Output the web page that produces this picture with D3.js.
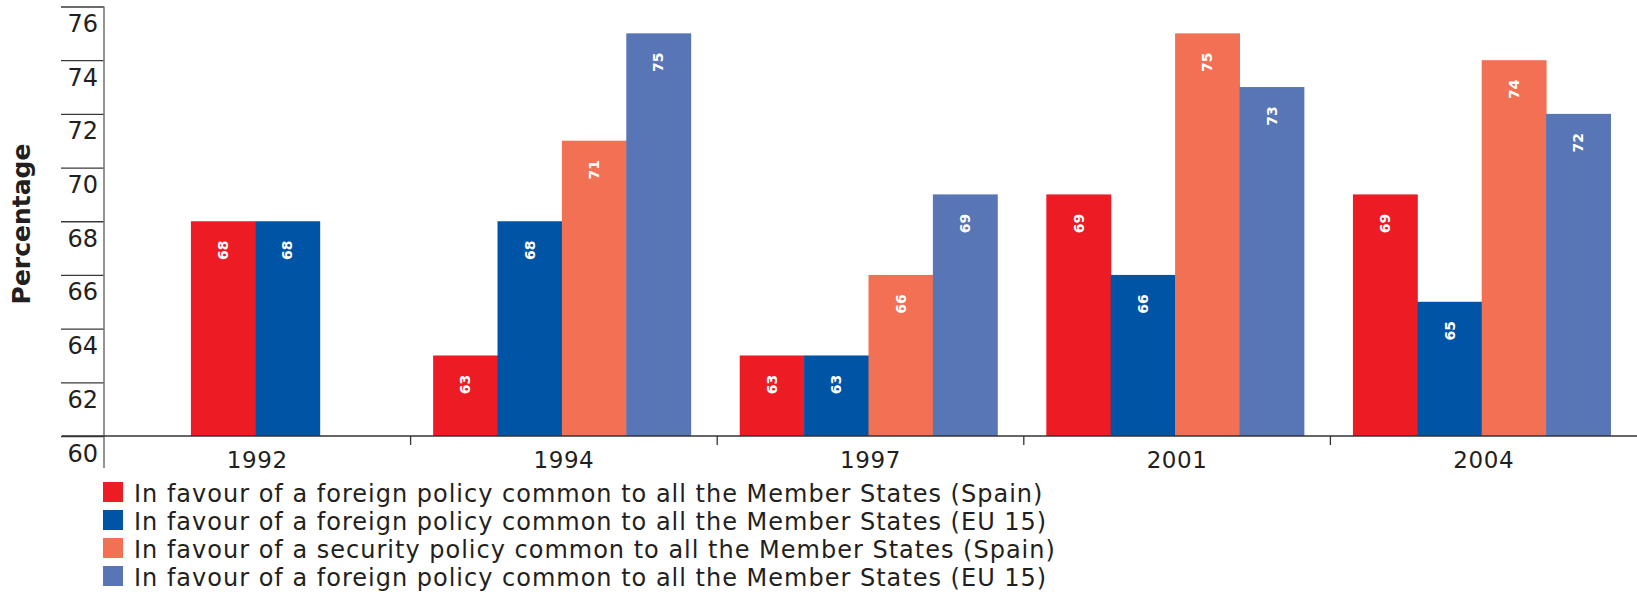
<!DOCTYPE html>
<html>
<head>
<meta charset="utf-8">
<script src="https://cdn.jsdelivr.net/npm/d3@7"></script>
<style>
  body { margin: 0; background: #fff; }
  svg { display: block; font-family: "DejaVu Sans", Verdana, sans-serif; }
</style>
</head>
<body>
<svg id="chart" width="1637" height="594"></svg>
<script>
// data
var categories = ['1992', '1994', '1997', '2001', '2004'];

var spainForeign  = [68, 63, 63, 69, 69];
var euForeign     = [68, 68, 63, 66, 65];
var spainSecurity = [null, 71, 66, 75, 74];
var euForeign2    = [null, 75, 69, 73, 72];

var seriesLabels = [
	'In favour of a foreign policy common to all the Member States (Spain)',
	'In favour of a foreign policy common to all the Member States (EU 15)',
	'In favour of a security policy common to all the Member States (Spain)',
	'In favour of a foreign policy common to all the Member States (EU 15)'
];
var seriesColors = ['#ED1C24', '#0054A6', '#F27053', '#5875B5'];

var yTicks = [60, 62, 64, 66, 68, 70, 72, 74, 76];

var series = [spainForeign, euForeign, spainSecurity, euForeign2].map(function(v, i) {
	return { key: 's' + i, values: v, label: seriesLabels[i], color: seriesColors[i] };
});

var svg = d3.select('#chart');

var x0 = d3.scaleBand()
	.domain(categories)
	.range([104, 1637])
	.padding(0);

var y = d3.scaleLinear()
	.domain([60, 76])
	.range([436, 6.5]);

var barW = x0.bandwidth() * 0.21;

// y axis: ticks stick out to the left, labels sit under each tick line
var yAxis = svg.append('g')
	.attr('transform', 'translate(104,0)')
	.call(d3.axisLeft(y).tickValues(yTicks).tickSize(43).tickSizeOuter(0));
yAxis.select('.domain').remove();
yAxis.selectAll('.tick line').attr('stroke', '#3a3a3a').attr('stroke-width', 1.3);
yAxis.selectAll('.tick text')
	.attr('x', -6)
	.attr('y', 25)
	.attr('dy', null)
	.attr('fill', '#231f20')
	.style('font-size', '24px')
	.style('font-family', '"DejaVu Sans", sans-serif');

svg.append('line')
	.attr('x1', 104).attr('x2', 104)
	.attr('y1', y(76)).attr('y2', 468)
	.attr('stroke', '#7a7a7a').attr('stroke-width', 1.6);

// bars
var groups = svg.append('g').selectAll('g')
	.data(categories)
	.join('g');

groups.each(function(cat, i) {
	var present = series.filter(function(s) { return s.values[i] != null; });
	var c = x0(cat) + x0.bandwidth() / 2 - 2;
	var inner = d3.scaleBand()
		.domain(present.map(function(s) { return s.key; }))
		.range([c - present.length * barW / 2, c + present.length * barW / 2]);

	var g = d3.select(this);
	g.selectAll('rect')
		.data(present)
		.join('rect')
		.attr('x', function(s) { return inner(s.key); })
		.attr('y', function(s) { return y(s.values[i]); })
		.attr('width', inner.bandwidth() + 0.5)
		.attr('height', function(s) { return y(60) - y(s.values[i]); })
		.attr('fill', function(s) { return s.color; });

	g.selectAll('text')
		.data(present)
		.join('text')
		.attr('transform', function(s) {
			var tx = inner(s.key) + inner.bandwidth() / 2;
			var ty = y(s.values[i]) + 29;
			return 'translate(' + tx + ',' + ty + ') rotate(-90)';
		})
		.attr('text-anchor', 'middle')
		.attr('dominant-baseline', 'central')
		.attr('fill', '#fff')
		.style('font-size', '14px')
		.style('font-weight', 'bold')
		.text(function(s) { return s.values[i]; });
});

// x axis
svg.append('line')
	.attr('x1', 62).attr('x2', 1637)
	.attr('y1', y(60)).attr('y2', y(60))
	.attr('stroke', '#333').attr('stroke-width', 1.6);

svg.append('g').selectAll('line')
	.data(categories.slice(1))
	.join('line')
	.attr('x1', function(d) { return x0(d); })
	.attr('x2', function(d) { return x0(d); })
	.attr('y1', y(60)).attr('y2', y(60) + 9)
	.attr('stroke', '#333').attr('stroke-width', 1.3);

svg.append('g').selectAll('text')
	.data(categories)
	.join('text')
	.attr('x', function(d) { return x0(d) + x0.bandwidth() / 2; })
	.attr('y', 468)
	.attr('text-anchor', 'middle')
	.attr('fill', '#231f20')
	.style('font-size', '23px')
	.style('letter-spacing', '0.6px')
	.text(function(d) { return d; });

// axis title
svg.append('text')
	.attr('transform', 'translate(30,224) rotate(-90)')
	.attr('text-anchor', 'middle')
	.attr('fill', '#231f20')
	.style('font-size', '25px')
	.style('font-weight', 'bold')
	.text('Percentage');

// legend
var legend = svg.append('g').selectAll('g')
	.data(series)
	.join('g')
	.attr('transform', function(d, i) { return 'translate(103,' + (482 + i * 28) + ')'; });

legend.append('rect')
	.attr('width', 20).attr('height', 20)
	.attr('fill', function(d) { return d.color; });

legend.append('text')
	.attr('x', 31).attr('y', 19.5)
	.attr('fill', '#231f20')
	.style('font-size', '24px')
	.style('letter-spacing', '1px')
	.text(function(d) { return d.label; });
</script>
</body>
</html>
